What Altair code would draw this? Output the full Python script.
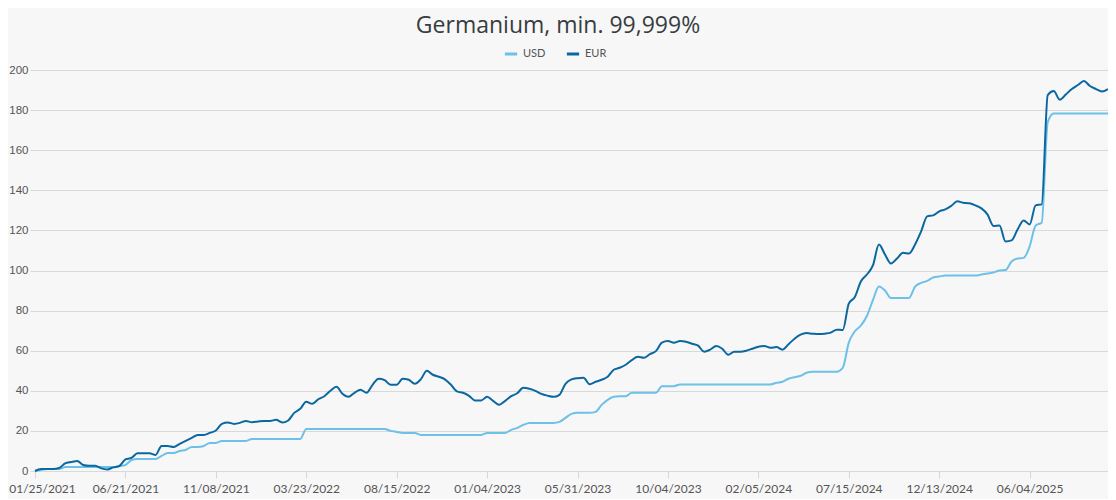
import altair as alt
import pandas as pd

# x-axis tick labels (one every 15 data points)
x_labels = ["01/25/2021", "06/21/2021", "11/08/2021", "03/23/2022", "08/15/2022",
            "01/04/2023", "05/31/2023", "10/04/2023", "02/05/2024", "07/15/2024",
            "12/13/2024", "06/04/2025"]
label_step = 15

usd = [0, 0.5, 1, 1, 1,
       2, 2, 2, 2, 2, 2, 2, 2, 2,
       2.5, 3, 5.5, 6, 6, 6, 6,
       7.5, 9, 9, 10, 10.5, 12, 12, 12.5, 14, 14,
       15, 15, 15, 15, 15,
       16, 16, 16, 16, 16, 16, 16, 16, 16,
       21, 21, 21, 21, 21, 21, 21, 21, 21, 21, 21, 21, 21, 21,
       20, 19.5, 19, 19, 19, 18,
       18, 18, 18, 18, 18, 18, 18, 18, 18, 18,
       19, 19, 19, 19,
       20.5, 21.5, 23, 24, 24, 24, 24, 24,
       24.5, 26.5, 28.5, 29, 29, 29, 29.5,
       33, 35.5, 37, 37.3, 37.3,
       39, 39, 39, 39, 39,
       42.3, 42.3, 42.3,
       43.2, 43.2, 43.2, 43.2, 43.2, 43.2, 43.2, 43.2, 43.2, 43.2, 43.2, 43.2, 43.2, 43.2, 43.2, 43.2,
       44, 44.5, 46, 46.8, 47.5, 49, 49.5, 49.5, 49.5, 49.5, 49.5, 51.5,
       64, 69.7, 72.5, 77.3, 85.2, 92, 90,
       86.3, 86.3, 86.3, 86.3,
       92, 93.8, 94.8, 96.5, 97,
       97.5, 97.5, 97.5, 97.5, 97.5, 97.5,
       98, 98.5, 99, 100, 100.2, 104.5, 106, 106.3, 112, 122.5, 123.8,
       174,
       178.3, 178.3, 178.3, 178.3, 178.3, 178.3, 178.3, 178.3, 178.3, 178.3]

eur = [0, 1, 1, 1, 1.5, 3.8, 4.5, 5, 3, 2.6, 2.6, 1.3, 0.8, 1.8, 2.5,
       5.8, 6.5, 8.8, 8.8, 8.8, 8, 12.5, 12.5, 12, 13.5, 15, 16.5, 18, 18, 19,
       20.2, 23.5, 24.2, 23.5, 24, 25, 24.3, 24.7, 25, 25, 25.5, 24.2, 25.2, 29, 31,
       34.5, 33.5, 35.8, 37.3, 40, 42, 38.5, 37, 39, 40.5, 39, 43, 46, 45.3, 43,
       43, 46, 45.5, 43.5, 45.7, 50, 48, 47, 45.7, 43, 39.7, 39, 37.5, 35.2, 35.2,
       37, 35, 33, 35, 37.3, 38.8, 41.5, 41, 40, 38.5, 37.6, 37, 38, 43.5, 45.7,
       46.3, 46.5, 43.3, 44.5, 45.5, 47, 50.5, 51.5, 53, 55.3, 57, 56.5, 58.3, 59.8, 64,
       64.8, 64, 64.8, 64.5, 63.5, 62.5, 59.5, 60.5, 62.3, 61, 58, 59.5, 59.5, 60, 61,
       62, 62.3, 61.5, 61.8, 60.5, 63.2, 66, 68, 68.8, 68.5, 68.3, 68.5, 69, 70.5, 70.3,
       83.5, 86.8, 94.5, 98, 102.5, 113, 108, 103.5, 106, 108.8, 108.5, 113, 119.5, 127, 127.5,
       129.5, 130.5, 132.2, 134.5, 133.8, 133.5, 132.5, 131, 128, 122.2, 122.5, 114.5, 115, 120.5, 125,
       123, 132.5, 133, 187.5, 189.5, 185.2, 187.8, 190.5, 192.5, 194.5, 192, 190.5, 189.3, 190.5]

series_names = ["USD", "EUR"]
series_colors = ["#6dc0e7", "#0a679f"]

rows = []
for i, v in enumerate(usd):
    rows.append({"i": i, "v": v, "s": "USD"})
for i, v in enumerate(eur):
    rows.append({"i": i, "v": v, "s": "EUR"})
df = pd.DataFrame(rows)

tick_vals = [k * label_step for k in range(len(x_labels))]
label_expr = "[" + ",".join("'" + l + "'" for l in x_labels) + "][round(datum.value / %d)]" % label_step

x_enc = alt.X("i:Q",
              scale=alt.Scale(domain=[-0.83, 178], nice=False, zero=False),
              axis=alt.Axis(values=tick_vals, labelExpr=label_expr, grid=False,
                            domain=False, ticks=True, tickColor="#d6d6d6", tickSize=7,
                            labelFont="Lato", labelFontSize=12, labelColor="#555555",
                            labelPadding=5, title=None, labelOverlap=False,
                            labelOffset={"condition": {"test": "datum.value == 0", "value": 7},
                                         "value": 0}))
y_enc = alt.Y("v:Q",
              scale=alt.Scale(domain=[0, 200], nice=False),
              axis=alt.Axis(values=list(range(0, 201, 20)), grid=True, gridColor="#d9d9d9",
                            domain=False, ticks=False, labelFont="Liberation Sans",
                            labelFontSize=11.5, labelColor="#555555", labelPadding=2,
                            title=None))
color_enc = alt.Color("s:N",
                      scale=alt.Scale(domain=series_names, range=series_colors),
                      legend=alt.Legend(orient="none", legendX=473, legendY=-24,
                                        direction="horizontal", title=None,
                                        symbolType="stroke", symbolStrokeWidth=3,
                                        symbolSize=150, labelFont="Lato",
                                        labelFontSize=11, labelColor="#555555",
                                        columnPadding=14, labelOffset=4))

base = alt.Chart(df).mark_line(strokeWidth=2, interpolate="monotone").encode(
    x=x_enc, y=y_enc, color=color_enc)

usd_layer = base.transform_filter(alt.datum.s == "USD")
eur_layer = base.transform_filter(alt.datum.s == "EUR")

chart = alt.layer(usd_layer, eur_layer).properties(
    width=1078, height=401,
    title=alt.TitleParams("Germanium, min. 99,999%", anchor="middle", frame="group",
                          fontSize=23, font="Open Sans", fontWeight="normal",
                          color="#373d3f", dx=-11, offset=8),
    autosize=alt.AutoSizeParams(type="none"),
    padding={"left": 22, "top": 62, "right": 0, "bottom": 28},
    background="#f7f7f7",
).configure_view(stroke=None)

chart.save("out.html", embed_options={"renderer": "svg", "actions": False})
